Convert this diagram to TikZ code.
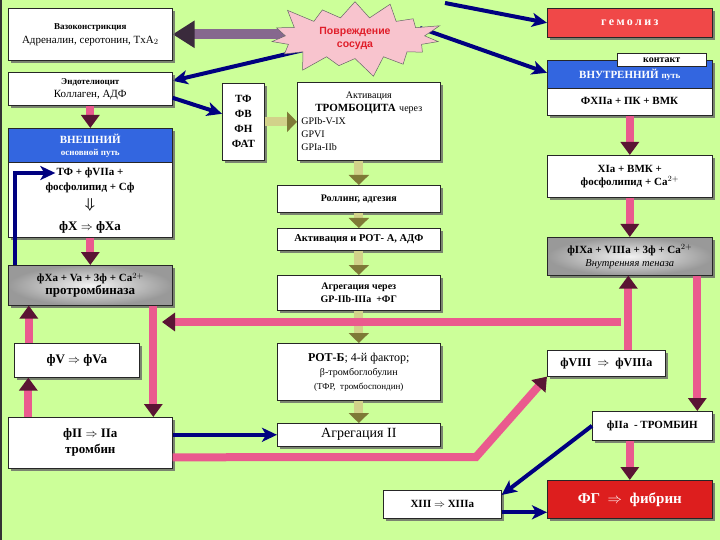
\documentclass[tikz,border=0pt]{standalone}
\usepackage{fontspec}
\setmainfont{Liberation Serif}
\newfontfamily\dmgfont{Liberation Sans}
\usetikzlibrary{arrows.meta,shadows,shapes.symbols,calc}

\definecolor{bggreen}{HTML}{CCFF99}
\definecolor{hdrblue}{HTML}{3366E0}
\definecolor{gemred}{HTML}{F04848}
\definecolor{fgred}{HTML}{DD1E1E}
\definecolor{navy}{HTML}{000080}
\definecolor{pinkbar}{HTML}{EA5A8E}
\definecolor{headred}{HTML}{5A1434}
\definecolor{olivebar}{HTML}{D2D28A}
\definecolor{olivehead}{HTML}{7E7A36}
\definecolor{purpbar}{HTML}{86688E}
\definecolor{purphead}{HTML}{3A2A3C}
\definecolor{starpink}{HTML}{F8C4CE}
\definecolor{dmgred}{HTML}{E01E2A}

\pgfdeclarelayer{behind}
\pgfsetlayers{behind,main}

\tikzset{box/.style={draw=black!85,fill=white,line width=0.6pt,anchor=north west,
           align=center,inner sep=1pt,
           drop shadow={shadow xshift=3pt,shadow yshift=-3pt,fill=black!60,opacity=.8},
           font=\fontsize{11}{13}\selectfont\bfseries},
         graybox/.style={box,inner color=gray!10,outer color=gray!80},
         hdr/.style={draw=black!85,fill=hdrblue,line width=0.6pt,text=white,align=center,
           inner sep=1pt,font=\fontsize{11}{12}\selectfont\bfseries},
         pinkarr/.style={draw=pinkbar,line width=8pt,
           -{Triangle[width=18pt,length=13pt,color=headred,fill=headred]}},
         olivarr/.style={draw=olivebar,line width=9pt,
           -{Triangle[width=20pt,length=10pt,color=olivehead,fill=olivehead]}},
         navyarr/.style={draw=navy,line width=4pt,
           -{Stealth[width=14pt,length=15pt,inset=4pt]}},
         purparr/.style={draw=purpbar,line width=10pt,
           -{Triangle[width=26pt,length=22pt,color=purphead,fill=purphead]}}}

\begin{document}
\begin{tikzpicture}[x=1pt,y=-1pt]
  \useasboundingbox (0,0) rectangle (720,540);
  \begin{pgfonlayer}{behind}
    \fill[bggreen] (0,0) rectangle (720,540);
    \draw[black!80,line width=1.5pt] (0.75,0) -- (0.75,540);
  \end{pgfonlayer}
  % left column
  \node[box,minimum width=164pt,minimum height=52pt,font=\fontsize{11}{14}\selectfont] (vaso) at (8,8)
    {{\fontsize{9}{11}\selectfont\bfseries Вазоконстрикция}\\Адреналин, серотонин, TxA$_2$};
  \node[box,minimum width=164pt,minimum height=33pt,font=\fontsize{11}{13}\selectfont] (endo) at (8,72)
    {{\fontsize{9}{11}\selectfont\bfseries Эндотелиоцит}\\Коллаген, АДФ};
  \node[box,minimum width=164pt,minimum height=109pt] (vnesh) at (8,128) {};
  \node[hdr,minimum width=164pt,minimum height=34pt,anchor=north] (vneshH) at (vnesh.north)
    {ВНЕШНИЙ\\{\fontsize{9}{11}\selectfont основной путь}};
  \node[font=\fontsize{11}{13}\selectfont\bfseries,inner sep=1pt] (vneshTF) at (90,173) {ТФ + фVIIa +};
  \node[font=\fontsize{11}{13}\selectfont\bfseries,inner sep=1pt] (vneshPL) at (90,188) {фосфолипид + Сф};
  \node[inner sep=0pt,font=\Large\boldmath] (vneshDn) at (90,205) {$\Downarrow$};
  \node[font=\fontsize{13}{15}\selectfont\bfseries,inner sep=1pt] (vneshX) at (90,227) {фX $\Rightarrow$ фXa};
  \node[graybox,minimum width=164pt,minimum height=40pt] (prot) at (8,265)
    {фXa + Va + 3ф + Ca$^{2+}$\\{\fontsize{13}{15}\selectfont протромбиназа}};
  \node[box,minimum width=125pt,minimum height=34pt,font=\fontsize{13}{15}\selectfont\bfseries] (fv) at (14,343)
    {фV $\Rightarrow$ фVa};
  \node[box,minimum width=164pt,minimum height=51pt,font=\fontsize{13}{16}\selectfont\bfseries] (fii) at (8,417)
    {фII $\Rightarrow$ IIa\\тромбин};
  % platelet column
  \node[starburst,starburst points=15,starburst point height=22pt,fill=starpink,draw=black!60,
    line width=0.5pt,minimum width=184pt,minimum height=72pt,align=center,text=dmgred,
    font=\dmgfont\bfseries\fontsize{10.5}{13}\selectfont] (star) at (355,38) {Повреждение\\сосуда};
  \node[box,minimum width=42pt,minimum height=77pt,font=\fontsize{11}{15}\selectfont\bfseries] (tf) at (222,83)
    {ТФ\\ФВ\\ФН\\ФАТ};
  \node[box,minimum width=143pt,minimum height=78pt,text width=135pt,align=left,
    font=\fontsize{10}{13}\selectfont] (act) at (297,82)
    {{\centering Активация\\{\fontsize{11}{13}\selectfont\bfseries ТРОМБОЦИТА} через\par}GPIb-V-IX\\GPVI\\GPIa-IIb};
  \node[box,minimum width=163pt,minimum height=27pt,font=\fontsize{10}{12}\selectfont\bfseries] (roll) at (277,185)
    {Роллинг, адгезия};
  \node[box,minimum width=163pt,minimum height=22pt,font=\fontsize{10.5}{12}\selectfont\bfseries] (rota) at (277,228)
    {Активация и РОТ- А, АДФ};
  \node[box,minimum width=163pt,minimum height=35pt,font=\fontsize{10}{13}\selectfont\bfseries] (agr1) at (277,275)
    {Агрегация через\\GP-IIb-IIIa \ +ФГ};
  \node[box,minimum width=163pt,minimum height=57pt,font=\fontsize{12}{14}\selectfont] (rotb) at (277,343)
    {\textbf{РОТ-Б}; 4-й фактор;\\{\fontsize{10}{13}\selectfont β-тромбоглобулин}\\{\fontsize{9}{12}\selectfont(ТФР, \ тромбоспондин)}};
  \node[box,minimum width=163pt,minimum height=23pt,font=\fontsize{14}{16}\selectfont] (agr2) at (277,423) {Агрегация II};
  \node[box,minimum width=118pt,minimum height=28pt] (xiii) at (383,490) {XIII $\Rightarrow$ XIIIa};
  % right column
  \node[box,fill=gemred,text=white,minimum width=165pt,minimum height=29pt,
    font=\fontsize{12}{14}\selectfont\bfseries] (gem) at (547,8) {\addfontfeature{LetterSpace=20}гемолиз};
  \node[box,minimum width=165pt,minimum height=55pt] (vnutr) at (547,60) {};
  \node[hdr,minimum width=165pt,minimum height=28pt,anchor=north] (vnutrH) at (vnutr.north)
    {ВНУТРЕННИЙ {\fontsize{9}{11}\selectfont путь}};
  \node[font=\fontsize{11}{13}\selectfont\bfseries,inner sep=1pt] (vnutrT) at (629.5,101) {ФXIIa + ПК + ВМК};
  \node[draw=black!85,fill=white,line width=0.5pt,anchor=north west,inner sep=0pt,
    minimum width=89pt,minimum height=13pt,font=\fontsize{10}{11}\selectfont\bfseries] (kont) at (617,53) {контакт};
  \node[box,minimum width=165pt,minimum height=42pt] (xia) at (547,155) {XIa + ВМК +\\фосфолипид + Ca$^{2+}$};
  \node[graybox,minimum width=165pt,minimum height=38pt] (ten) at (547,237)
    {фIXa + VIIIa + 3ф + Ca$^{2+}$\\{\normalfont\itshape\fontsize{10.5}{13}\selectfont Внутренняя теназа}};
  \node[box,minimum width=118pt,minimum height=26pt,font=\fontsize{12}{14}\selectfont\bfseries] (fviii) at (547,350)
    {фVIII \ $\Rightarrow$ \ фVIIIa};
  \node[box,minimum width=120pt,minimum height=29pt] (fiia) at (592,411) {фIIa \ - ТРОМБИН};
  \node[box,fill=fgred,text=white,minimum width=165pt,minimum height=38pt,
    font=\fontsize{15}{17}\selectfont\bfseries] (fg) at (547,480) {ФГ \ $\Rightarrow$ \ фибрин};
  \coordinate (dmgTop) at (445,3);
  \coordinate (dmgRight) at (420,28);
  \coordinate (barR) at (621,322);
  \coordinate (barL) at (162,322);
  \coordinate (barBend) at (476,457);
  % arrows from the damage star
  \begin{pgfonlayer}{behind}
    \draw[purparr] (vaso.east -| star.center) -- (vaso.east);
    \draw[navyarr] (star.center) -- ([yshift=8pt]endo.east);
    \draw[navyarr] (dmgTop) -- (gem.west);
    \draw[navyarr] (dmgRight) -- ([yshift=15pt]vnutr.west);
  \end{pgfonlayer}
  % platelet chain
  \draw[navyarr] ([yshift=-9pt]endo.east) -- ([yshift=8pt]tf.west);
  \draw[olivarr] (tf.east) -- (tf.east -| act.west);
  \draw[olivarr] (roll.north |- act.south) -- (roll.north);
  \draw[olivarr] (roll.south) -- (rota.north);
  \draw[olivarr] (rota.south) -- (agr1.north);
  \draw[olivarr] (agr1.south) -- (rotb.north);
  \draw[olivarr] (rotb.south) -- (agr2.north);
  % cascade
  \draw[pinkarr] (endo.south) -- (vneshH.north);
  \draw[pinkarr] (vnesh.south) -- (prot.north);
  \draw[pinkarr] (vnutr.south) -- (xia.north);
  \draw[pinkarr] (xia.south) -- (ten.north);
  \draw[pinkarr] ([xshift=63pt]prot.south) -- ([xshift=63pt]fii.north);
  \draw[pinkarr] ([xshift=-48pt]fv.north) -- ([xshift=-48pt]fv.north |- prot.south);
  \draw[pinkarr] ([xshift=-62pt]fii.north) -- ([xshift=-62pt]fii.north |- fv.south);
  \draw[pinkarr] ([xshift=22pt]fviii.north) -- ([xshift=22pt]fviii.north |- ten.south);
  \draw[pinkarr] ([xshift=45pt]fiia.north |- ten.south) -- ([xshift=45pt]fiia.north);
  \draw[pinkarr] (barR) -- (barL);
  \draw[pinkarr] (fiia.south -| fg.north) -- (fg.north);
  \draw[pinkarr] ([yshift=-14.5pt]fii.east) -- (barBend) -- (fviii.south west);
  \draw[navyarr] (fii.east |- agr2.west) -- (agr2.west);
  \draw[navyarr] (fiia.west) -- ([yshift=-5pt]xiii.north east);
  \draw[navyarr] ([yshift=-8pt]xiii.east) -- ([yshift=-8pt]xiii.east -| fg.west);
  \draw[navyarr] ([xshift=7pt]prot.north west) |- (vneshTF.west);
\end{tikzpicture}
\end{document}
